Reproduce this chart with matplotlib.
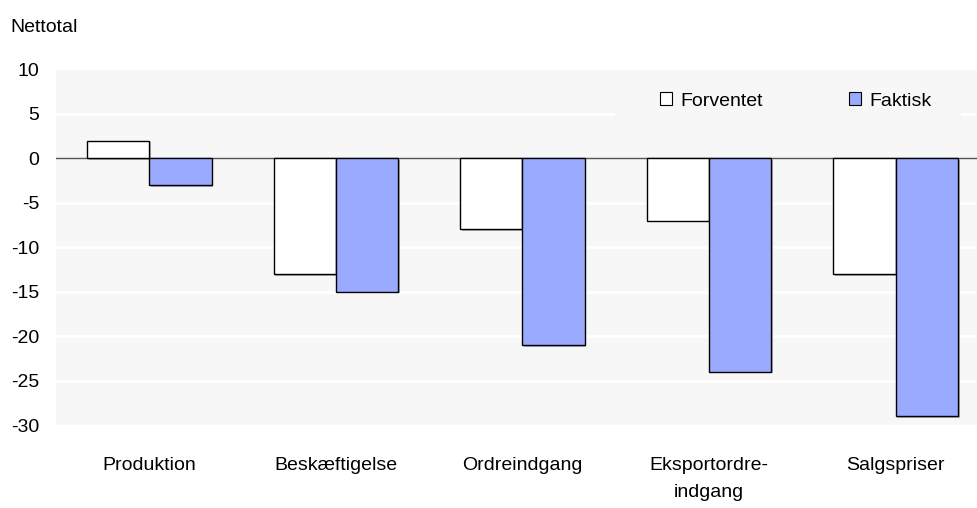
import matplotlib
matplotlib.use("Agg")
import matplotlib.pyplot as plt
import matplotlib.patheffects as pe
from matplotlib.patches import Rectangle
import numpy as np

categories = ["Produktion", "Beskæftigelse", "Ordreindgang", "Eksportordre-\nindgang", "Salgspriser"]
forventet = [2, -13, -8, -7, -13]
faktisk = [-3, -15, -21, -24, -29]
yticks = [10, 5, 0, -5, -10, -15, -20, -25, -30]

plt.rcParams['font.family'] = ['Liberation Sans Narrow', 'Liberation Sans', 'DejaVu Sans']
FS = 14

fig = plt.figure(figsize=(9.78, 5.08), dpi=100)
W, H = 978, 508
left, right, top, bottom = 56, 989, 69.5, 425
ax = fig.add_axes([left / W, 1 - bottom / H, (right - left) / W, (bottom - top) / H])
ax.set_facecolor('#f7f7f7')

x = np.arange(len(categories))
bw = 0.334
shadow = [pe.SimplePatchShadow(offset=(1.2, -1.2), shadow_rgbFace='#a0a0a0', alpha=0.8), pe.Normal()]
b1 = ax.bar(x - bw / 2, forventet, bw, color='white', edgecolor='black', linewidth=1.0,
            label='Forventet', zorder=3)
b2 = ax.bar(x + bw / 2, faktisk, bw, color='#99aaff', edgecolor='black', linewidth=1.0,
            label='Faktisk', zorder=3)
for b in list(b1) + list(b2):
    b.set_path_effects(shadow)

ax.set_xlim(-0.5, 4.5)
ax.set_ylim(-30, 10)
ax.set_yticks(yticks)
ax.set_yticklabels([str(v) for v in yticks], fontsize=FS)
ax.set_xticks(x)
ax.set_xticklabels(categories, fontsize=FS, linespacing=1.8, va='top')
ax.tick_params(axis='both', length=0)
ax.tick_params(axis='x', pad=23)
ax.tick_params(axis='y', pad=12)
for s in ax.spines.values():
    s.set_visible(False)
for v in yticks:
    if v not in (0, 10, -30):
        ax.axhline(v, color='white', linewidth=2, zorder=1)
ax.axhline(0, color='#555555', linewidth=1.0, zorder=2)

# legend background patch (breaks the gridline like the reference)
lx0, lx1, ly0, ly1 = 615, 961, 84, 120
ax.add_patch(Rectangle((lx0 / W, 1 - ly1 / H), (lx1 - lx0) / W, (ly1 - ly0) / H,
                       transform=fig.transFigure, facecolor='#f7f7f7', edgecolor='none', zorder=1.5))

leg = ax.legend(loc='center', bbox_to_anchor=(796 / W, 1 - 101 / H), bbox_transform=fig.transFigure,
                ncol=2, frameon=False, fontsize=FS, handlelength=0.6, handleheight=0.6,
                handletextpad=0.45, columnspacing=4.4, borderpad=0.2, borderaxespad=0)
for h in leg.legend_handles:
    h.set_path_effects([])
    h.set_linewidth(0.8)

fig.text(10 / W, 1 - 28 / H, "Nettotal", fontsize=FS, va='center', ha='left')

fig.savefig("out.png", dpi=100, facecolor='white')
